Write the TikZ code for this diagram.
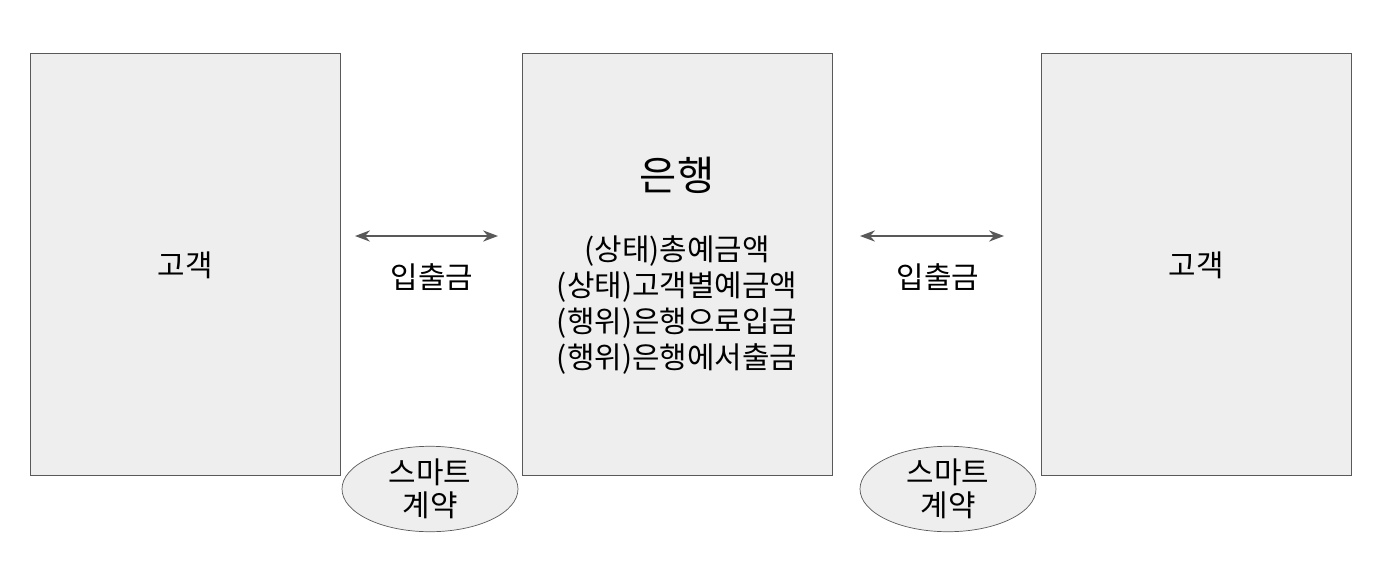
\documentclass[tikz,border=0pt]{standalone}
\usepackage{fontspec}
\setmainfont{Noto Sans CJK KR}
\usetikzlibrary{positioning,arrows.meta,shapes.geometric}
\definecolor{boxgray}{HTML}{EEEEEE}
\definecolor{linegray}{HTML}{595959}
\tikzset{
  party/.style={draw=linegray,fill=boxgray,minimum width=6.2cm,minimum height=8.44cm,font=\fontsize{17}{21}\selectfont},
  contract/.style={ellipse,draw=linegray,fill=boxgray,minimum width=3.52cm,minimum height=1.24cm,inner sep=0pt,align=center,font=\fontsize{17}{19}\selectfont},
  flow/.style={{Stealth[length=3mm]}-{Stealth[length=3mm]},draw=linegray,line width=0.8pt}
}
\begin{document}
\begin{tikzpicture}
  \useasboundingbox (0,0) rectangle (28,-11.4);
  \node [party] (cust_l) at (3.7,-5.28) {};
  \node [font=\fontsize{17}{21}\selectfont] at (3.7,-5.3) {고객};
  \node [party] (bank) at (13.54,-5.28) {};
  \node [party] (cust_r) at (23.92,-5.28) {};
  \node [font=\fontsize{17}{21}\selectfont] at (23.92,-5.3) {고객};

  \node [font=\fontsize{23}{28}\selectfont] (bank_name) at (13.54,-3.5) {은행};
  \node [align=center,font=\fontsize{17}{20.5}\selectfont] (bank_desc) at (13.54,-6.1)
    {(상태)총예금액\\(상태)고객별예금액\\(행위)은행으로입금\\(행위)은행에서출금};

  \coordinate (a1_l) at (7.1,-4.72);
  \coordinate (a1_r) at (9.96,-4.72);
  \coordinate (a2_l) at (17.2,-4.72);
  \coordinate (a2_r) at (20.08,-4.72);
  \draw [flow] (a1_l) -- (a1_r);
  \draw [flow] (a2_l) -- (a2_r);
  \node [font=\fontsize{17}{21}\selectfont] (io_l) at (8.64,-5.55) {입출금};
  \node [font=\fontsize{17}{21}\selectfont] (io_r) at (18.76,-5.55) {입출금};

  \node [contract] (sc_l) at (8.6,-9.78) {스마트\\계약};
  \node [contract] (sc_r) at (18.96,-9.78) {스마트\\계약};
\end{tikzpicture}
\end{document}
